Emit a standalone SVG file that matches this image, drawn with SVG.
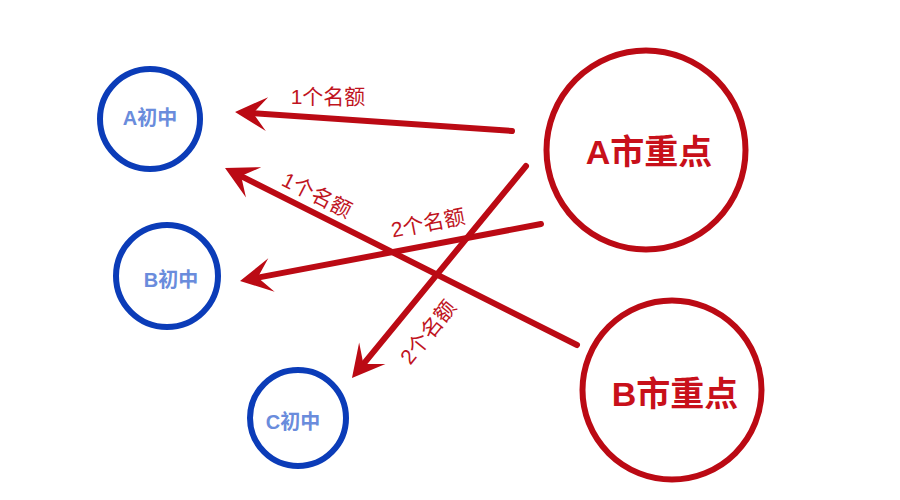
<svg xmlns="http://www.w3.org/2000/svg" width="900" height="500" viewBox="0 0 900 500">
<style>
.school{fill:none;stroke:#0b3cb8;stroke-width:6}
.key{fill:none;stroke:#bb0a14;stroke-width:6}
.slabel{font-family:"Liberation Sans","Noto Sans CJK SC",sans-serif;font-weight:bold;font-size:20px;fill:#6a8cdc;text-anchor:middle;dominant-baseline:central}
.klabel{font-family:"Liberation Sans","Noto Sans CJK SC",sans-serif;font-weight:bold;font-size:34px;fill:#c8101a;text-anchor:middle;dominant-baseline:central}
.arrow{stroke:#bb0a14;stroke-width:6;stroke-linecap:round;fill:none;marker-end:url(#head)}
.elabel{font-family:"Liberation Sans","Noto Sans CJK SC",sans-serif;font-size:21px;fill:#c0141e;text-anchor:middle;dominant-baseline:central}
</style>
<defs>
<marker id="head" viewBox="-36 -20 40 40" refX="-18" refY="0" markerWidth="40" markerHeight="40" markerUnits="userSpaceOnUse" orient="auto">
<path d="M-32,-17 L0,0 L-32,17 L-18,0 Z" fill="#bb0a14"/>
</marker>
</defs>
<rect width="900" height="500" fill="#ffffff"/>
<g id="A-junior"><circle class="school" cx="150" cy="119" r="50"/><text class="slabel" x="150" y="118">A初中</text></g>
<g id="B-junior"><circle class="school" cx="167" cy="276" r="51"/><text class="slabel" x="171" y="280">B初中</text></g>
<g id="C-junior"><circle class="school" cx="298" cy="418" r="48"/><text class="slabel" x="293" y="422">C初中</text></g>
<g id="A-key"><circle class="key" cx="646" cy="150" r="99.5"/><text class="klabel" x="649" y="152">A市重点</text></g>
<g id="B-key"><circle class="key" cx="672" cy="390" r="89.5"/><text class="klabel" x="675" y="394">B市重点</text></g>
<g id="connectors">
<line class="arrow" x1="512" y1="131" x2="253" y2="113.2"/>
<line class="arrow" x1="577" y1="345" x2="241.1" y2="176.1"/>
<line class="arrow" x1="541" y1="224" x2="257.7" y2="277.6"/>
<line class="arrow" x1="526" y1="166" x2="363.4" y2="364.1"/>
<text class="elabel" x="328" y="96">1个名额</text>
<text class="elabel" x="317" y="195" transform="rotate(27 317 195)">1个名额</text>
<text class="elabel" x="428" y="223" transform="rotate(-11 428 223)">2个名额</text>
<text class="elabel" x="428" y="332" transform="rotate(-51 428 332)">2个名额</text>
</g>
</svg>
